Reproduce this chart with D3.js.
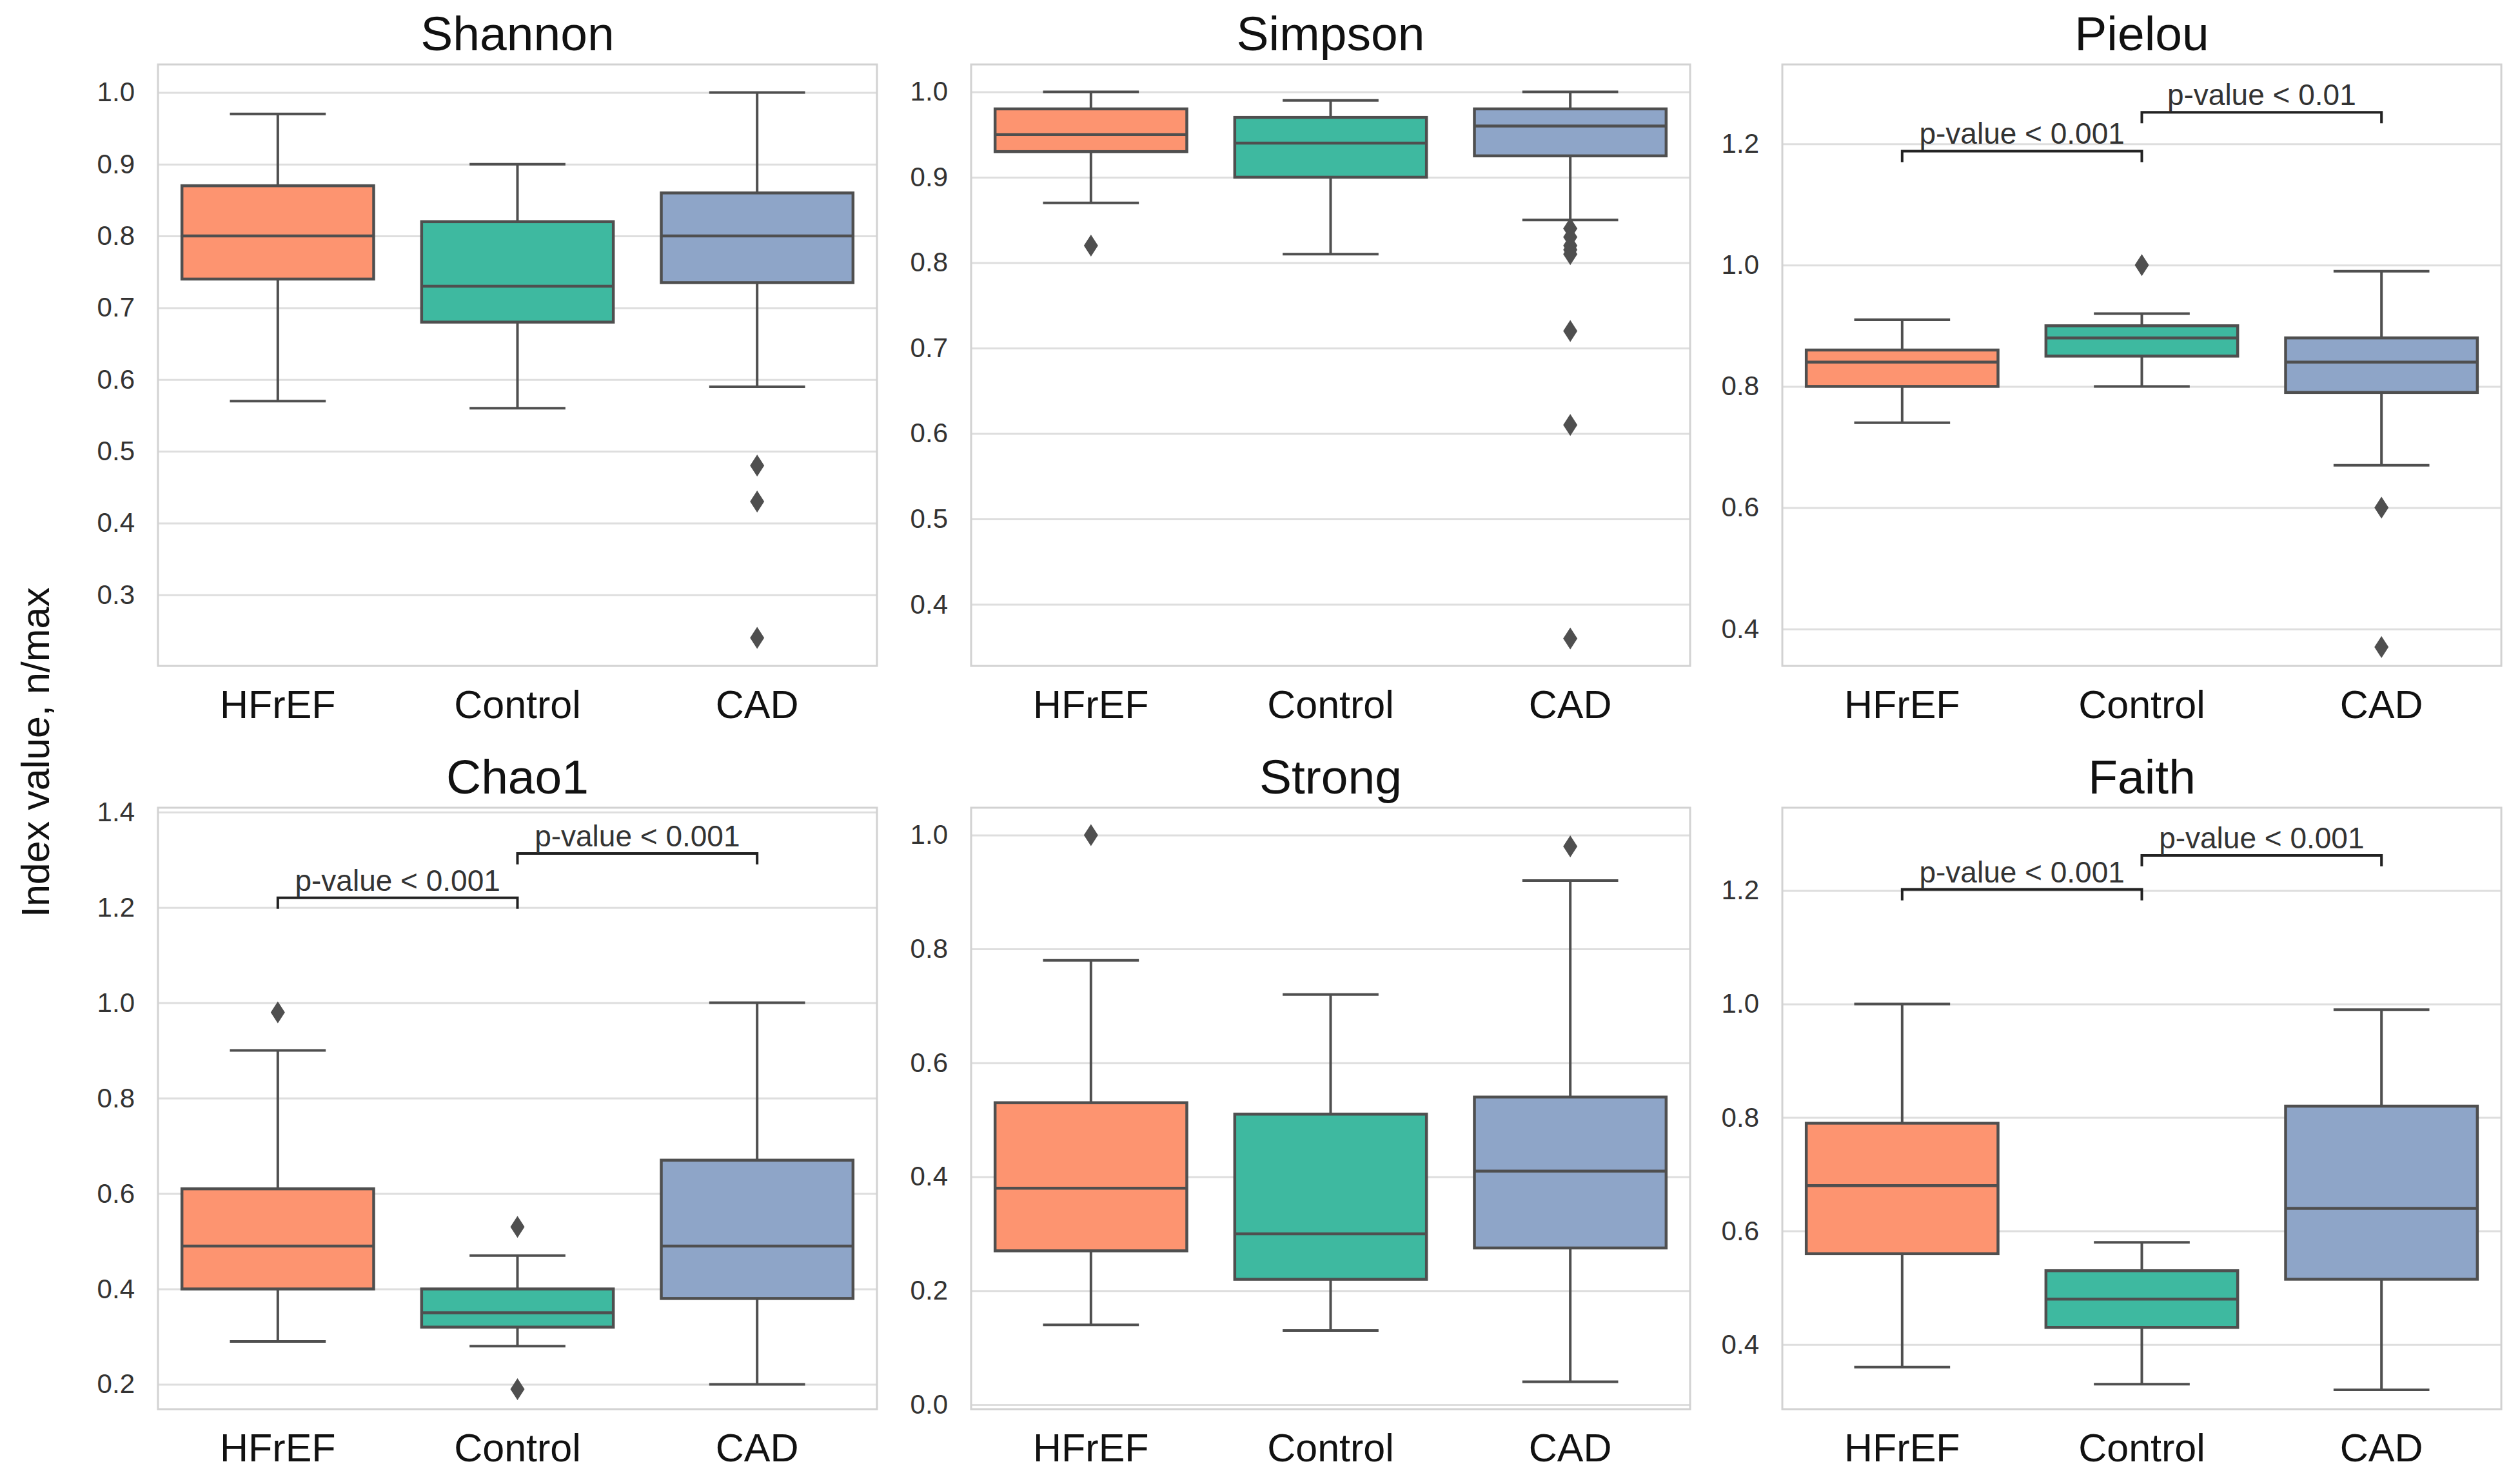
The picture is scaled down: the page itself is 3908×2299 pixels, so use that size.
<!DOCTYPE html>
<html>
<head>
<meta charset="utf-8">
<script src="https://cdn.jsdelivr.net/npm/d3@7"></script>
<style>
  body { margin: 0; background: #fff; }
  svg { display: block; font-family: "Liberation Sans", Arial, sans-serif; }
</style>
</head>
<body>
<div id="chart"></div>
<script>
// groups on every x axis
const categories = ["HFrEF", "Control", "CAD"];
const panelNames = ["Shannon", "Simpson", "Pielou", "Chao1", "Strong", "Faith"];

// [lower whisker, Q1, median, Q3, upper whisker] for HFrEF, Control, CAD
const shannonBoxes = [[0.57, 0.74, 0.80, 0.87, 0.97], [0.56, 0.68, 0.73, 0.82, 0.90], [0.59, 0.735, 0.80, 0.86, 1.00]];
const simpsonBoxes = [[0.87, 0.93, 0.95, 0.98, 1.00], [0.81, 0.90, 0.94, 0.97, 0.99], [0.85, 0.925, 0.96, 0.98, 1.00]];
const pielouBoxes = [[0.74, 0.80, 0.84, 0.86, 0.91], [0.80, 0.85, 0.88, 0.90, 0.92], [0.67, 0.79, 0.84, 0.88, 0.99]];
const chao1Boxes = [[0.29, 0.40, 0.49, 0.61, 0.90], [0.28, 0.32, 0.35, 0.40, 0.47], [0.20, 0.38, 0.49, 0.67, 1.00]];
const strongBoxes = [[0.14, 0.27, 0.38, 0.53, 0.78], [0.13, 0.22, 0.30, 0.51, 0.72], [0.04, 0.275, 0.41, 0.54, 0.92]];
const faithBoxes = [[0.36, 0.56, 0.68, 0.79, 1.00], [0.33, 0.43, 0.48, 0.53, 0.58], [0.32, 0.515, 0.64, 0.82, 0.99]];

// outliers per group
const shannonOutliers = [[], [], [0.48, 0.43, 0.24]];
const simpsonOutliers = [[0.82], [], [0.84, 0.83, 0.82, 0.815, 0.81, 0.72, 0.61, 0.36]];
const pielouOutliers = [[], [1.00], [0.60, 0.37]];
const chao1Outliers = [[0.98], [0.53, 0.19], []];
const strongOutliers = [[1.00], [], [0.98]];
const faithOutliers = [[], [], []];

// y ranges and tick labels
const shannonDomain = [0.201, 1.039];
const simpsonDomain = [0.328, 1.032];
const pielouDomain = [0.339, 1.331];
const chao1Domain = [0.148, 1.409];
const strongDomain = [-0.008, 1.048];
const faithDomain = [0.286, 1.346];

const shannonTicks = [0.3, 0.4, 0.5, 0.6, 0.7, 0.8, 0.9, 1.0];
const simpsonTicks = [0.4, 0.5, 0.6, 0.7, 0.8, 0.9, 1.0];
const pielouTicks = [0.4, 0.6, 0.8, 1.0, 1.2];
const chao1Ticks = [0.2, 0.4, 0.6, 0.8, 1.0, 1.2, 1.4];
const strongTicks = [0.0, 0.2, 0.4, 0.6, 0.8, 1.0];
const faithTicks = [0.4, 0.6, 0.8, 1.0, 1.2];

// significance brackets: [from group, to group, bracket level, label]
const pielouTests = [["HFrEF", "Control", 1.188, "p-value < 0.001"], ["Control", "CAD", 1.252, "p-value < 0.01"]];
const chao1Tests = [["HFrEF", "Control", 1.22, "p-value < 0.001"], ["Control", "CAD", 1.313, "p-value < 0.001"]];
const faithTests = [["HFrEF", "Control", 1.202, "p-value < 0.001"], ["Control", "CAD", 1.262, "p-value < 0.001"]];

const colors = ["#fd9470", "#3eb9a0", "#8ea5c8"];

const panels = [
  { boxes: shannonBoxes, outliers: shannonOutliers, domain: shannonDomain, ticks: shannonTicks, tests: [] },
  { boxes: simpsonBoxes, outliers: simpsonOutliers, domain: simpsonDomain, ticks: simpsonTicks, tests: [] },
  { boxes: pielouBoxes, outliers: pielouOutliers, domain: pielouDomain, ticks: pielouTicks, tests: pielouTests },
  { boxes: chao1Boxes, outliers: chao1Outliers, domain: chao1Domain, ticks: chao1Ticks, tests: chao1Tests },
  { boxes: strongBoxes, outliers: strongOutliers, domain: strongDomain, ticks: strongTicks, tests: [] },
  { boxes: faithBoxes, outliers: faithOutliers, domain: faithDomain, ticks: faithTicks, tests: faithTests }
];

const width = 3908, height = 2299;
const colLeft = [245, 1506, 2764];
const rowTop = [100, 1253];
const pw = 1115, ph = 933;
const lineColor = "#4f4f4f";

const svg = d3.select("#chart").append("svg")
  .attr("width", width)
  .attr("height", height);

svg.append("text")
  .attr("transform", "translate(76,1167) rotate(-90)")
  .attr("text-anchor", "middle")
  .attr("font-size", 61)
  .attr("fill", "#111")
  .text("Index value, n/max");

panels.forEach((p, i) => {
  const g = svg.append("g")
    .attr("transform", `translate(${colLeft[i % 3]},${rowTop[Math.floor(i / 3)]})`);

  const x = d3.scaleBand().domain(categories).range([0, pw]).padding(0);
  const y = d3.scaleLinear().domain(p.domain).range([ph, 0]);
  const bw = x.bandwidth() * 0.8;

  // grid + tick labels
  const yAxis = g.append("g")
    .call(d3.axisLeft(y).tickValues(p.ticks).tickSize(-pw).tickPadding(36).tickFormat(d3.format(".1f")));
  yAxis.select(".domain").remove();
  yAxis.selectAll(".tick line").attr("stroke", "#dedede").attr("stroke-width", 3);
  yAxis.selectAll(".tick text")
    .attr("font-size", 42)
    .attr("fill", "#333")
    .attr("font-family", "Liberation Sans, Arial, sans-serif");

  // frame
  g.append("rect")
    .attr("width", pw).attr("height", ph)
    .attr("fill", "none")
    .attr("stroke", "#d2d2d2")
    .attr("stroke-width", 3);

  // x labels
  g.selectAll(".xlab")
    .data(categories)
    .enter()
    .append("text")
    .attr("class", "xlab")
    .attr("x", (d) => x(d) + x.bandwidth() / 2)
    .attr("y", ph + 81)
    .attr("text-anchor", "middle")
    .attr("font-size", 61)
    .attr("fill", "#111")
    .text((d) => d);

  // title
  g.append("text")
    .attr("x", pw / 2)
    .attr("y", -22)
    .attr("text-anchor", "middle")
    .attr("font-size", 75)
    .attr("fill", "#111")
    .text(panelNames[i]);

  const boxes = g.selectAll(".box")
    .data(p.boxes)
    .enter()
    .append("g")
    .attr("class", "box")
    .attr("transform", (d, j) => `translate(${x(categories[j]) + x.bandwidth() / 2},0)`);

  // whiskers
  boxes.append("line")
    .attr("y1", (d) => y(d[0])).attr("y2", (d) => y(d[1]))
    .attr("stroke", lineColor).attr("stroke-width", 4);
  boxes.append("line")
    .attr("y1", (d) => y(d[3])).attr("y2", (d) => y(d[4]))
    .attr("stroke", lineColor).attr("stroke-width", 4);
  // caps
  [0, 4].forEach((k) => {
    boxes.append("line")
      .attr("x1", -bw / 4).attr("x2", bw / 4)
      .attr("y1", (d) => y(d[k])).attr("y2", (d) => y(d[k]))
      .attr("stroke", lineColor).attr("stroke-width", 4);
  });
  // box
  boxes.append("rect")
    .attr("x", -bw / 2)
    .attr("width", bw)
    .attr("y", (d) => y(d[3]))
    .attr("height", (d) => y(d[1]) - y(d[3]))
    .attr("fill", (d, j) => colors[j])
    .attr("stroke", lineColor)
    .attr("stroke-width", 4.5);
  // median
  boxes.append("line")
    .attr("x1", -bw / 2).attr("x2", bw / 2)
    .attr("y1", (d) => y(d[2])).attr("y2", (d) => y(d[2]))
    .attr("stroke", lineColor).attr("stroke-width", 4.5);

  // outliers as thin diamonds
  p.outliers.forEach((vals, j) => {
    const cx = x(categories[j]) + x.bandwidth() / 2;
    g.selectAll(null)
      .data(vals)
      .enter()
      .append("path")
      .attr("d", (v) => {
        const cy = y(v);
        return `M${cx},${cy - 17}L${cx + 11},${cy}L${cx},${cy + 17}L${cx - 11},${cy}Z`;
      })
      .attr("fill", lineColor);
  });

  // significance brackets
  p.tests.forEach((t) => {
    const x1 = x(t[0]) + x.bandwidth() / 2;
    const x2 = x(t[1]) + x.bandwidth() / 2;
    const yy = y(t[2]);
    g.append("path")
      .attr("d", `M${x1},${yy + 17}V${yy}H${x2}V${yy + 17}`)
      .attr("fill", "none")
      .attr("stroke", "#222")
      .attr("stroke-width", 4);
    g.append("text")
      .attr("x", (x1 + x2) / 2)
      .attr("y", yy - 11)
      .attr("text-anchor", "middle")
      .attr("font-size", 46)
      .attr("fill", "#333")
      .text(t[3]);
  });
});
</script>
</body>
</html>
